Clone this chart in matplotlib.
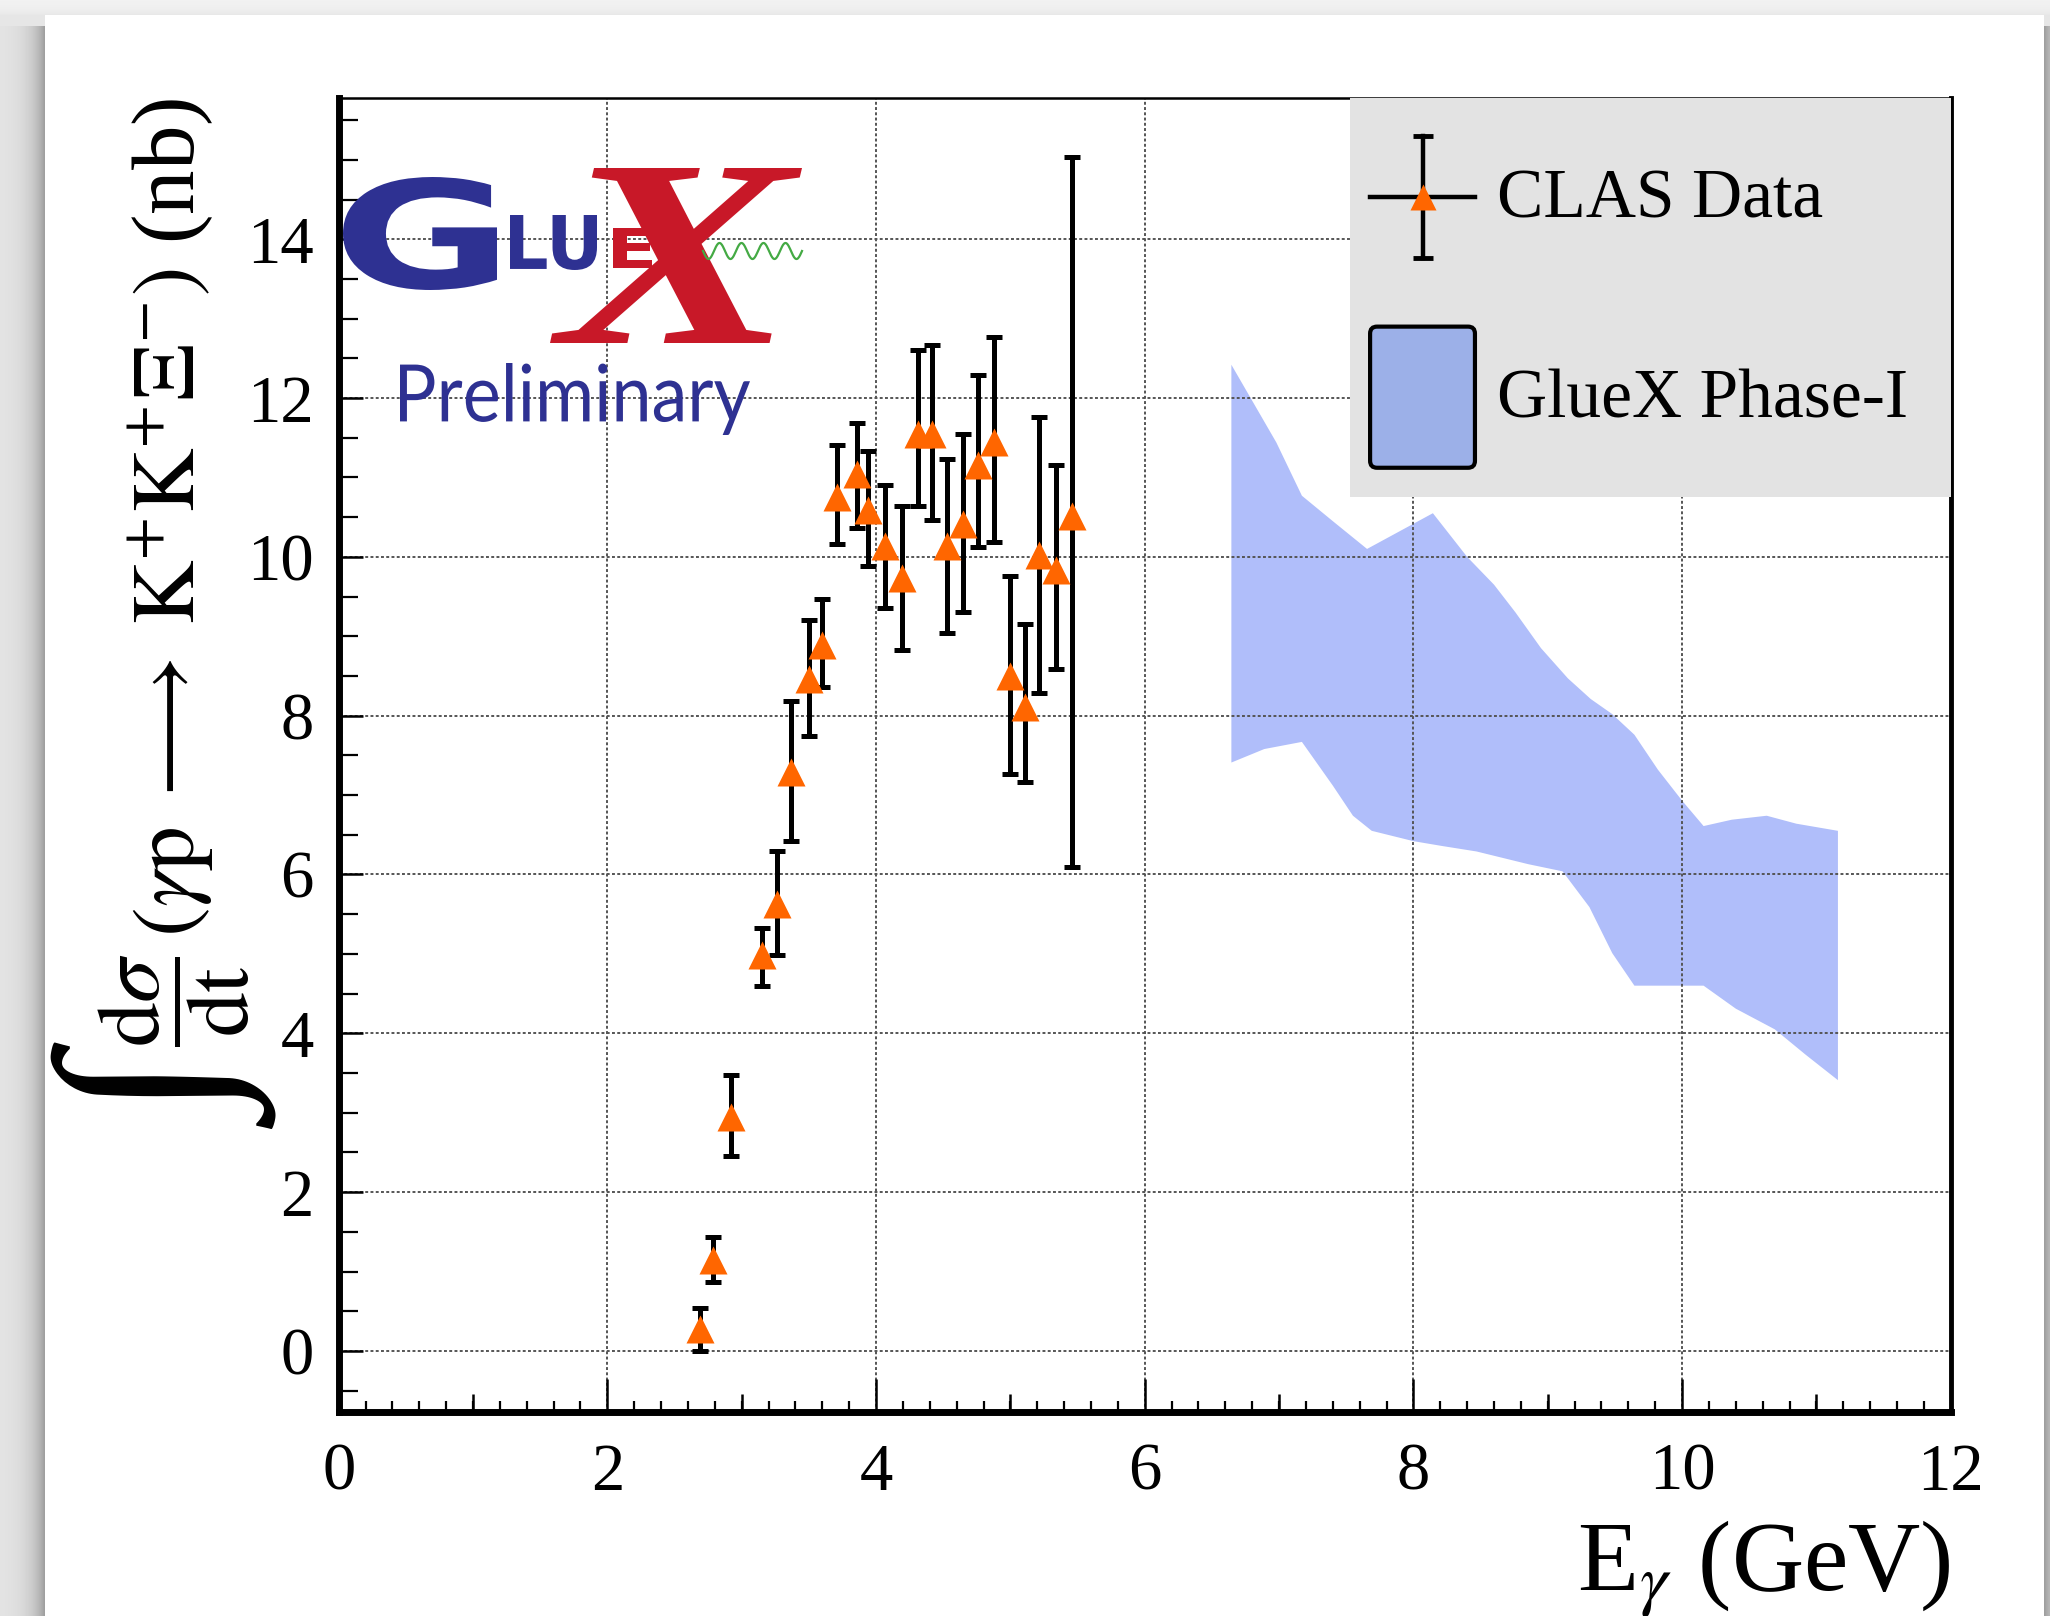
import numpy as np
import matplotlib
matplotlib.use("Agg")
import matplotlib.pyplot as plt
from matplotlib.patches import Rectangle, FancyBboxPatch, PathPatch, Patch
from matplotlib.lines import Line2D
from matplotlib.legend_handler import HandlerBase
from matplotlib.textpath import TextPath
from matplotlib.font_manager import FontProperties
from matplotlib.transforms import Affine2D
from matplotlib.ticker import MultipleLocator, NullLocator

# ---------------- data ----------------
clas_e = [2.69, 2.79, 2.92, 3.15, 3.26, 3.37, 3.50, 3.60, 3.71, 3.86, 3.94, 4.07,
          4.19, 4.31, 4.42, 4.53, 4.65, 4.76, 4.88, 5.00, 5.11, 5.21, 5.34, 5.46]
clas_xs = [0.27, 1.15, 2.95, 4.98, 5.63, 7.29, 8.46, 8.89, 10.76, 11.05, 10.59, 10.14,
           9.73, 11.55, 11.55, 10.14, 10.41, 11.16, 11.45, 8.50, 8.11, 10.02, 9.84, 10.51]
clas_hi = [0.54, 1.43, 3.48, 5.33, 6.30, 8.19, 9.20, 9.47, 11.41, 11.69, 11.33, 10.90,
           10.64, 12.60, 12.67, 11.23, 11.55, 12.29, 12.77, 9.76, 9.16, 11.76, 11.16, 15.04]
clas_lo = [0.00, 0.87, 2.46, 4.59, 4.99, 6.42, 7.74, 8.36, 10.16, 10.37, 9.88, 9.36,
           8.83, 10.64, 10.47, 9.04, 9.31, 10.13, 10.19, 7.27, 7.17, 8.28, 8.59, 6.10]

# GlueX Phase-I projection band (upper and lower edges)
band_up_e = [6.645, 6.98, 7.17, 7.40, 7.655, 8.145, 8.40, 8.60, 8.76, 8.95, 9.15,
             9.32, 9.48, 9.645, 9.82, 10.0, 10.16, 10.37, 10.63, 10.85, 11.16]
band_up = [12.42, 11.44, 10.77, 10.45, 10.10, 10.55, 10.0, 9.65, 9.30, 8.85, 8.47,
           8.21, 8.02, 7.76, 7.32, 6.93, 6.61, 6.69, 6.74, 6.64, 6.55]
band_lo_e = [6.645, 6.89, 7.17, 7.40, 7.55, 7.69, 8.0, 8.21, 8.47, 8.855, 9.11,
             9.31, 9.48, 9.645, 10.16, 10.40, 10.69, 10.92, 11.16]
band_lo = [7.41, 7.58, 7.67, 7.12, 6.74, 6.55, 6.42, 6.36, 6.29, 6.13, 6.04,
           5.59, 5.01, 4.60, 4.60, 4.31, 4.05, 3.73, 3.41]

labels = ["CLAS Data", "GlueX Phase-I"]

ORANGE = "#ff6600"
BAND = "#b0befa"
BAND_LEG = "#9cb0e8"
LOGO_BLUE = "#2e3192"
LOGO_RED = "#c81828"

W, H, DPI = 2050, 1616, 100
plt.rcParams["font.family"] = ["Liberation Serif", "DejaVu Serif"]
plt.rcParams["mathtext.fontset"] = "stix"

fig = plt.figure(figsize=(W / DPI, H / DPI), dpi=DPI)

# ---- slide card with a soft shadow behind it ----
bg = fig.add_axes([0, 0, 1, 1], zorder=-10)
yy, xx = np.mgrid[0:H, 0:W]
cl, ct, cr = 45, 15, 2043
dx = np.maximum(np.maximum(cl - xx, xx - cr), 0)
dy = np.maximum(ct - yy, 0)
shade = 0.95 - 0.30 * np.exp(-dx / 13.0) * (yy > ct + 10) - 0.05 * np.exp(-dy / 6.0)
shade[(xx >= cl) & (xx <= cr) & (yy >= ct)] = 1.0
bg.imshow(shade, cmap="gray", vmin=0, vmax=1, extent=(0, W, H, 0), aspect="auto")
bg.axis("off")

# ---- main axes ----
ax = fig.add_axes([0.1652, 0.1262, 0.7864, 0.8132])
ax.set_xlim(0, 12)
ax.set_ylim(-0.77, 15.78)

ax.grid(True, which="major", color="#555555", linestyle=(0, (1.5, 1.2)), linewidth=1.4)

ax.xaxis.set_major_locator(MultipleLocator(2))
ax.xaxis.set_minor_locator(MultipleLocator(0.2))
ax.yaxis.set_major_locator(MultipleLocator(2))
ax.yaxis.set_minor_locator(MultipleLocator(0.5))
ax.tick_params(which="both", direction="in", top=False, right=False)
ax.tick_params(axis="x", which="major", length=24, width=1.8, labelsize=48, pad=22)
ax.tick_params(axis="x", which="minor", length=8, width=1.6)
ax.tick_params(axis="y", which="major", length=17, width=1.8, labelsize=48, pad=18)
ax.tick_params(axis="y", which="minor", length=14, width=1.6)

# medium ticks at odd GeV values
sec = ax.secondary_xaxis("bottom")
sec.set_xticks(np.arange(1, 12, 2))
sec.xaxis.set_minor_locator(NullLocator())
sec.tick_params(direction="in", length=13, width=1.8, labelbottom=False)
sec.spines["bottom"].set_visible(False)

ax.spines["left"].set_linewidth(5)
ax.spines["bottom"].set_linewidth(5)
ax.spines["right"].set_linewidth(3.5)
ax.spines["top"].set_linewidth(1.8)

# band
ax.fill(np.r_[band_up_e, band_lo_e[::-1]], np.r_[band_up, band_lo[::-1]],
        color=BAND, lw=0, zorder=1)

# CLAS points
y = np.array(clas_xs)
yerr = [y - np.array(clas_lo), np.array(clas_hi) - y]
ax.errorbar(clas_e, y, yerr=yerr, fmt="^", color=ORANGE, ms=20, mec="none",
            ecolor="black", elinewidth=3.6, capsize=5.5, capthick=3.6, zorder=4)

# legend background
ax.add_patch(Rectangle((0.6274, 0.6963), 0.3726, 0.3037, transform=ax.transAxes,
                       fc="#e3e3e3", ec="none", zorder=3))


class ClasHandler(HandlerBase):
    def create_artists(self, legend, orig_handle, xdescent, ydescent,
                       width, height, fontsize, trans):
        cx = -xdescent + width / 2
        cy = -ydescent + height / 2
        hh = height * 0.43
        arts = [
            Line2D([cx - width / 2, cx + width / 2], [cy, cy], color="black", lw=3.2),
            Line2D([cx, cx], [cy - hh, cy + hh], color="black", lw=3.2),
            Line2D([cx, cx], [cy - hh, cy + hh], ls="none", marker="_", ms=14,
                   mew=3.5, color="black"),
            Line2D([cx], [cy], ls="none", marker="^", ms=19, color=ORANGE, mec="none"),
        ]
        for a in arts:
            a.set_transform(trans)
        return arts


class BoxHandler(HandlerBase):
    def create_artists(self, legend, orig_handle, xdescent, ydescent,
                       width, height, fontsize, trans):
        p = FancyBboxPatch((-xdescent, -ydescent), width, height,
                           boxstyle="round,pad=0,rounding_size=5",
                           fc=BAND_LEG, ec="black", lw=3, transform=trans)
        return [p]


clas_proxy = Line2D([], [])
band_proxy = Patch()
leg = ax.legend([clas_proxy, band_proxy], labels,
                handler_map={clas_proxy: ClasHandler(), band_proxy: BoxHandler()},
                loc="upper left", bbox_to_anchor=(0.6398, 0.9783), frameon=False,
                borderpad=0, borderaxespad=0, fontsize=50, handlelength=1.51,
                handleheight=2.75, labelspacing=0.85, handletextpad=0.32)
leg.set_zorder(6)

# axis titles
ax.set_xlabel(r"E$_{\gamma}$ (GeV)", fontsize=72, ha="right", va="top")
ax.xaxis.set_label_coords(1.0, -0.081)
ax.set_ylabel(r"$\dfrac{\mathrm{d}\sigma}{\mathrm{dt}}\,(\gamma\mathrm{p}\;\longrightarrow\;"
              r"\mathrm{K}^{+}\mathrm{K}^{+}\Xi^{-})$ (nb)", fontsize=64, loc="top")
ax.yaxis.set_label_coords(-0.054, 1.0)

fig.canvas.draw()
bb = ax.yaxis.label.get_window_extent()
fig.text(176 / W, (bb.y0 - 18) / H, "\u222b", rotation=90,
         family="Liberation Serif", fontsize=165, ha="center", va="top")


# ---- GlueX logo ----
def logo_word(s, box, color, prop, z=5):
    tp = TextPath((0, 0), s, size=100, prop=prop)
    ext = tp.get_extents()
    l, t, r, b = box
    tr = (Affine2D().translate(-ext.x0, -ext.y0)
          .scale((r - l) / ext.width, (b - t) / ext.height)
          .translate(l, H - b))
    fig.add_artist(PathPatch(tp, transform=tr, fc=color, ec="none", zorder=z))


sans_bold = FontProperties(family="DejaVu Sans", weight="bold")
logo_word("G", (343, 177, 497, 290), LOGO_BLUE, sans_bold)
logo_word("LU", (510, 215, 597, 270), LOGO_BLUE, sans_bold)
logo_word("X", (550, 168, 802, 343), LOGO_RED,
          FontProperties(family="Liberation Serif", style="italic", weight="bold"))
logo_word("E", (613, 228, 652, 268), LOGO_RED, sans_bold, z=6)
logo_word("Preliminary", (400, 363, 750, 435), LOGO_BLUE, FontProperties(family="Lato"))

wx = np.linspace(703, 802, 200)
wy = 251 + 8 * np.sin((wx - 703) / 99 * 2 * np.pi * 4.5)
fig.add_artist(Line2D(wx, H - wy, color="#44aa44", lw=1.6,
                      transform=Affine2D(), zorder=5))

fig.savefig("out.png", dpi=DPI)
